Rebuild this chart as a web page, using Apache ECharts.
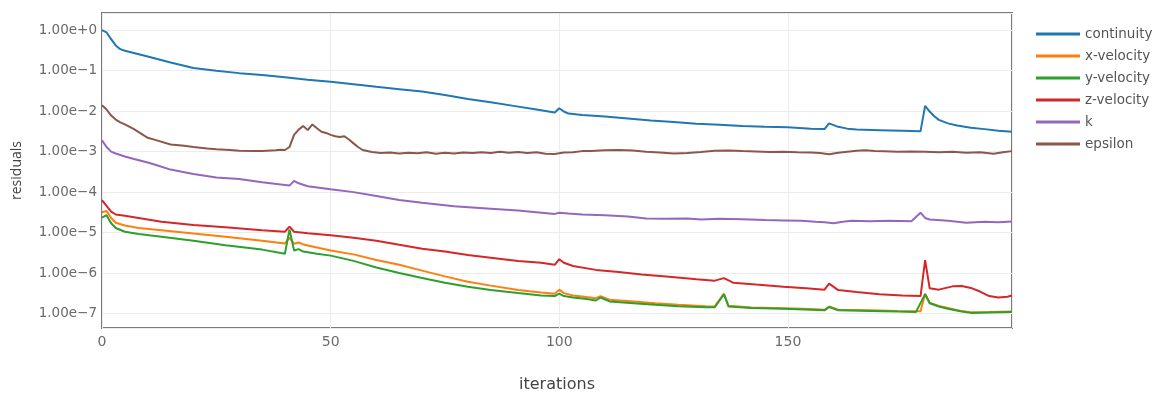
<!DOCTYPE html>
<html>
<head>
<meta charset="utf-8">
<script src="https://cdn.jsdelivr.net/npm/echarts@6/dist/echarts.min.js"></script>
<style>
html,body{margin:0;padding:0;background:#fff;}
#chart{width:1173px;height:394px;}
</style>
</head>
<body>
<div id="chart"></div>
<script>
const seriesNames = ['continuity','x-velocity','y-velocity','z-velocity','k','epsilon'];
const xTicks = [0, 50, 100, 150];

const continuity = [[0,1.0],[1,0.88],[2,0.6],[3,0.42],[4,0.34],[5,0.31],[10,0.225],[15,0.16],[20,0.116],[25,0.1],[30,0.087],[35,0.078],[40,0.069],[45,0.06],[50,0.053],[55,0.046],[60,0.040],[65,0.035],[70,0.0305],[75,0.025],[80,0.020],[85,0.0165],[90,0.0135],[95,0.011],[99,0.0093],[100,0.0118],[101,0.0098],[102,0.0087],[105,0.008],[110,0.0074],[115,0.0066],[120,0.0059],[125,0.0054],[130,0.0049],[135,0.0046],[140,0.0043],[145,0.0041],[150,0.0040],[155,0.0037],[158,0.0036],[159,0.0050],[161,0.0041],[163,0.0037],[165,0.0035],[170,0.0034],[175,0.0033],[179,0.0032],[180,0.0135],[181,0.0098],[182,0.0075],[183,0.0061],[185,0.0050],[187,0.0044],[190,0.0039],[193,0.0036],[196,0.0033],[199,0.0031]];

const xVelocity = [[0,3.2e-5],[1,3.4e-5],[2,2.3e-5],[3,1.75e-5],[5,1.5e-5],[8,1.3e-5],[13,1.15e-5],[20,9.5e-6],[27,7.9e-6],[35,6.3e-6],[40,5.4e-6],[41,7.5e-6],[42,5.3e-6],[43,5.7e-6],[44,5.1e-6],[47,4.3e-6],[50,3.6e-6],[55,2.9e-6],[60,2.1e-6],[65,1.6e-6],[70,1.15e-6],[75,8.3e-7],[80,6.1e-7],[85,4.9e-7],[91,3.8e-7],[96,3.3e-7],[99,3.1e-7],[100,3.9e-7],[101,3.2e-7],[103,2.8e-7],[106,2.55e-7],[108,2.4e-7],[109,2.7e-7],[111,2.2e-7],[117,1.95e-7],[121,1.8e-7],[126,1.65e-7],[132,1.52e-7],[134,1.5e-7],[136,3.1e-7],[137,1.55e-7],[142,1.42e-7],[149,1.36e-7],[155,1.3e-7],[158,1.24e-7],[159,1.5e-7],[161,1.25e-7],[168,1.2e-7],[174,1.16e-7],[179,1.14e-7],[180,3.1e-7],[181,1.85e-7],[183,1.55e-7],[185,1.38e-7],[188,1.15e-7],[190,1.08e-7],[194,1.1e-7],[199,1.13e-7]];

const yVelocity = [[0,2.35e-5],[1,2.7e-5],[2,1.7e-5],[3,1.3e-5],[5,1.05e-5],[8,9.2e-6],[13,7.9e-6],[20,6.3e-6],[27,4.9e-6],[35,3.8e-6],[40,3.0e-6],[41,1.2e-5],[42,3.6e-6],[43,3.9e-6],[44,3.4e-6],[47,3.0e-6],[50,2.7e-6],[55,2.0e-6],[60,1.38e-6],[65,1.0e-6],[70,7.6e-7],[75,5.8e-7],[80,4.6e-7],[85,3.8e-7],[91,3.2e-7],[96,2.8e-7],[99,2.7e-7],[100,3.1e-7],[101,2.7e-7],[103,2.5e-7],[106,2.3e-7],[108,2.1e-7],[109,2.5e-7],[111,2.0e-7],[117,1.78e-7],[121,1.65e-7],[126,1.52e-7],[132,1.43e-7],[134,1.43e-7],[136,3.0e-7],[137,1.5e-7],[142,1.38e-7],[149,1.32e-7],[155,1.25e-7],[158,1.2e-7],[159,1.45e-7],[161,1.2e-7],[168,1.16e-7],[174,1.12e-7],[178,1.1e-7],[180,3.0e-7],[181,1.8e-7],[183,1.5e-7],[185,1.32e-7],[188,1.12e-7],[190,1.04e-7],[194,1.07e-7],[199,1.1e-7]];

const zVelocity = [[0,6.3e-5],[1,4.6e-5],[2,3.3e-5],[3,2.8e-5],[5,2.6e-5],[8,2.3e-5],[13,1.85e-5],[20,1.54e-5],[27,1.35e-5],[35,1.15e-5],[40,1.05e-5],[41,1.4e-5],[42,1.05e-5],[45,9.7e-6],[50,8.6e-6],[55,7.5e-6],[60,6.3e-6],[65,5.0e-6],[70,4.0e-6],[75,3.4e-6],[80,2.8e-6],[85,2.4e-6],[91,2.0e-6],[96,1.8e-6],[99,1.6e-6],[100,2.2e-6],[101,1.8e-6],[103,1.5e-6],[108,1.2e-6],[113,1.07e-6],[118,9.2e-7],[124,8.1e-7],[130,7.0e-7],[134,6.5e-7],[136,7.5e-7],[138,5.8e-7],[143,5.2e-7],[149,4.6e-7],[154,4.2e-7],[158,3.9e-7],[159,5.5e-7],[161,3.8e-7],[165,3.4e-7],[170,3.0e-7],[175,2.8e-7],[179,2.7e-7],[180,2.1e-6],[181,4.2e-7],[183,3.9e-7],[186,4.7e-7],[188,4.8e-7],[190,4.3e-7],[192,3.5e-7],[194,2.7e-7],[196,2.5e-7],[198,2.6e-7],[199,2.8e-7]];

const kResidual = [[0,0.0019],[1,0.0013],[2,0.001],[3,0.0009],[5,0.00076],[7,0.00066],[10,0.00054],[12,0.00046],[15,0.00036],[18,0.00031],[20,0.00028],[25,0.00023],[30,0.00021],[35,0.000175],[40,0.00015],[41,0.000145],[42,0.00019],[43,0.000165],[45,0.00014],[50,0.000117],[55,0.0001],[60,8.0e-5],[65,6.4e-5],[70,5.5e-5],[77,4.5e-5],[85,3.9e-5],[91,3.5e-5],[95,3.2e-5],[99,2.9e-5],[100,3.1e-5],[102,2.95e-5],[105,2.8e-5],[110,2.7e-5],[115,2.5e-5],[119,2.24e-5],[123,2.2e-5],[128,2.24e-5],[131,2.1e-5],[135,2.2e-5],[140,2.15e-5],[145,2.05e-5],[149,2.0e-5],[153,1.95e-5],[156,1.85e-5],[158,1.8e-5],[160,1.7e-5],[162,1.85e-5],[164,1.95e-5],[168,1.9e-5],[172,1.95e-5],[177,1.9e-5],[179,3.1e-5],[180,2.3e-5],[181,2.1e-5],[185,1.95e-5],[189,1.75e-5],[193,1.85e-5],[196,1.8e-5],[199,1.88e-5]];

const epsilon = [[0,0.014],[1,0.011],[2,0.0078],[3,0.0062],[4,0.0053],[5,0.0047],[7,0.0036],[10,0.0022],[12,0.0019],[15,0.0015],[18,0.0014],[20,0.0013],[23,0.0012],[25,0.00115],[28,0.0011],[30,0.00105],[33,0.00103],[35,0.00104],[38,0.00108],[39,0.00112],[40,0.0011],[41,0.0013],[42,0.0026],[43,0.0035],[44,0.0043],[45,0.0034],[46,0.0047],[47,0.0038],[48,0.0031],[49,0.0029],[50,0.0026],[51,0.0024],[52,0.0023],[53,0.0024],[54,0.002],[55,0.0016],[56,0.0013],[57,0.0011],[59,0.00098],[61,0.00093],[63,0.00095],[65,0.0009],[67,0.00094],[69,0.00091],[71,0.00096],[73,0.00089],[75,0.00094],[77,0.0009],[79,0.00095],[81,0.00092],[83,0.00097],[85,0.00093],[87,0.001],[89,0.00094],[91,0.00098],[93,0.00092],[95,0.00096],[97,0.00089],[99,0.00088],[101,0.00095],[103,0.00097],[105,0.00103],[107,0.00104],[110,0.00108],[113,0.0011],[116,0.00107],[119,0.001],[122,0.00095],[125,0.0009],[128,0.00092],[131,0.00098],[134,0.00105],[137,0.00107],[140,0.00103],[143,0.00101],[146,0.00098],[149,0.001],[152,0.00097],[155,0.00095],[157,0.00092],[159,0.00086],[161,0.00094],[163,0.001],[165,0.00105],[167,0.00108],[169,0.00104],[171,0.00102],[174,0.00099],[177,0.00101],[180,0.001],[183,0.00097],[186,0.00099],[189,0.00094],[192,0.00097],[195,0.00089],[197,0.00097],[199,0.00103]];

const seriesData = [continuity, xVelocity, yVelocity, zVelocity, kResidual, epsilon];
const colors = ['#1f77b4','#ff7f0e','#2ca02c','#d62728','#9467bd','#8c564b'];

const FONT_WIDE = '"DejaVu Sans", "Open Sans", sans-serif';
const FONT = '"Open Sans", "Noto Sans", sans-serif';

const chart = echarts.init(document.getElementById('chart'), null, {renderer: 'canvas'});
chart.setOption({
  animation: false,
  backgroundColor: '#fff',
  color: colors,
  textStyle: {fontFamily: FONT_WIDE},
  grid: {left: 102, right: 161, top: 13, bottom: 66, show: true, borderColor: '#7a7a7a', borderWidth: 2, backgroundColor: 'transparent', containLabel: false, outerBoundsMode: 'none'},
  legend: {
    orient: 'vertical', left: 1036, top: 27, padding: 0,
    icon: 'rect', itemWidth: 44, itemHeight: 3, itemGap: 8,
    textStyle: {color: '#555', fontSize: 13.5, fontFamily: FONT_WIDE},
    data: seriesNames
  },
  xAxis: {
    type: 'value', min: 0, max: 199, interval: 50,
    name: 'iterations', nameLocation: 'middle', nameGap: 49,
    nameTextStyle: {color: '#444', fontSize: 16, fontFamily: FONT_WIDE},
    axisLine: {show: false}, axisTick: {show: false},
    axisLabel: {color: '#6a6a6a', fontSize: 14, margin: 7, showMaxLabel: false, fontFamily: FONT_WIDE},
    splitLine: {show: true, lineStyle: {color: '#ececec', width: 1}}
  },
  yAxis: {
    type: 'log', logBase: 10, min: 4.4e-8, max: 2.66, splitNumber: 8,
    name: 'residuals', nameLocation: 'middle', nameGap: 78, nameRotate: 90,
    nameTextStyle: {color: '#444', fontSize: 14, fontFamily: FONT},
    axisLine: {show: false}, axisTick: {show: false},
    axisLabel: {
      color: '#6a6a6a', fontSize: 13.5, margin: 5, showMinLabel: false, showMaxLabel: false, fontFamily: FONT_WIDE,
      formatter: function (v) {
        const e = Math.round(Math.log10(v));
        return '1.00e' + (e >= 0 ? '+' : '\u2212') + Math.abs(e);
      }
    },
    splitLine: {show: true, lineStyle: {color: '#ececec', width: 1}}
  },
  series: seriesNames.map(function (n, i) {
    return {
      name: n, type: 'line', data: seriesData[i], symbol: 'none',
      lineStyle: {width: 2, color: colors[i]}, itemStyle: {color: colors[i]},
      z: 2 + i
    };
  })
});
</script>
</body>
</html>
